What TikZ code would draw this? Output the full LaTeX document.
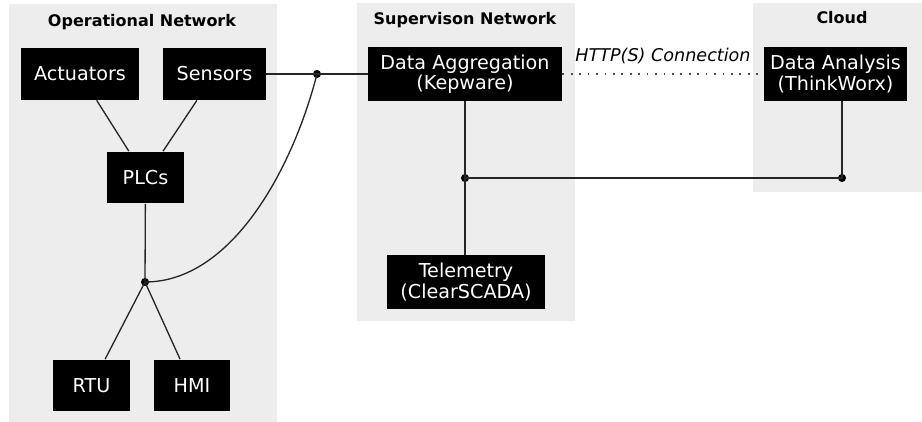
\documentclass[tikz,border=0pt]{standalone}
\usepackage{fontspec}
\setmainfont{DejaVu Sans}
\usepackage{tikz}

\definecolor{zonegray}{HTML}{EDEDED}

\begin{document}
\begin{tikzpicture}[x=0.02cm,y=-0.02cm,
    box/.style={fill=black,text=white,align=center,inner sep=0pt,
      minimum height=1.04cm,font=\fontsize{10.9}{11.6}\selectfont},
    zonetitle/.style={font=\fontsize{9.1}{11}\selectfont\bfseries},
    link/.style={line width=0.75pt,black!85},
    junction/.style={circle,fill=black,inner sep=0pt,minimum size=4.6pt}]
    % Fix the size of the picture
    \useasboundingbox (0,0) rectangle (922,422);
  
    % Draw the three zones
    \fill[zonegray] (9,4) rectangle (277,422);
    \fill[zonegray] (357,3) rectangle (575,321);
    \fill[zonegray] (753,3) rectangle (922,192);
    \node[zonetitle] (optitle) at (142,22) {Operational Network};
    \node[zonetitle] (suptitle) at (465,20) {Supervison Network};
    \node[zonetitle] (cloudtitle) at (842,18) {Cloud};
  
    % Draw the devices of the operational network
    \foreach \name/\x/\y/\w/\txt in {act/80/74/2.36/Actuators,
        sen/214.5/74/2.06/Sensors, plc/145.5/177.5/1.54/PLCs,
        rtu/91.5/385.5/1.54/RTU, hmi/192/385.5/1.52/HMI}
      \node[box,minimum width=\w cm] (\name) at (\x,\y) {\txt};
  
    % Draw the servers
    \node[box,minimum width=3.88cm,minimum height=1.08cm] (agg) at (465,74)
      {Data Aggregation\\(Kepware)};
    \node[box,minimum width=3.16cm,minimum height=1.08cm] (tel) at (466,282)
      {Telemetry\\(ClearSCADA)};
    \node[box,minimum width=2.86cm,minimum height=1.08cm] (ana) at (835.5,74)
      {Data Analysis\\(ThinkWorx)};
  
    % Junction points
    \node[junction] (jlow) at (145,282) {};
    \node[junction] (jtop) at (317,74) {};
    \node[junction] (jmid) at (465,178) {};
    \node[junction] (jcloud) at (842,178) {};
  
    % Connect the operational network
    \draw[link] (act) -- (plc);
    \draw[link] (sen) -- (plc);
    \draw[link] (plc) -- (jlow.center);
    \foreach \dev in {rtu,hmi}
      \draw[link] (jlow.center) -- (\dev);
    \draw[link] (jlow.center) .. controls (232,282) and (293,168) .. (jtop.center);
    \draw[link] (sen) -- (jtop.center) -- (agg);
  
    % Connect the servers
    \draw[link] (agg.south) -- (agg.south |- tel.north);
    \draw[link] (jmid.center) -- (jcloud.center) -- (jcloud.center |- ana.south);
    \draw[line width=1pt,black!70,dash pattern=on 1pt off 3.8pt]
      (agg) -- (ana) node[midway,above=2pt,black,font=\fontsize{10}{12}\selectfont\itshape] (http)
      {HTTP(S) Connection};
\end{tikzpicture}
\end{document}
